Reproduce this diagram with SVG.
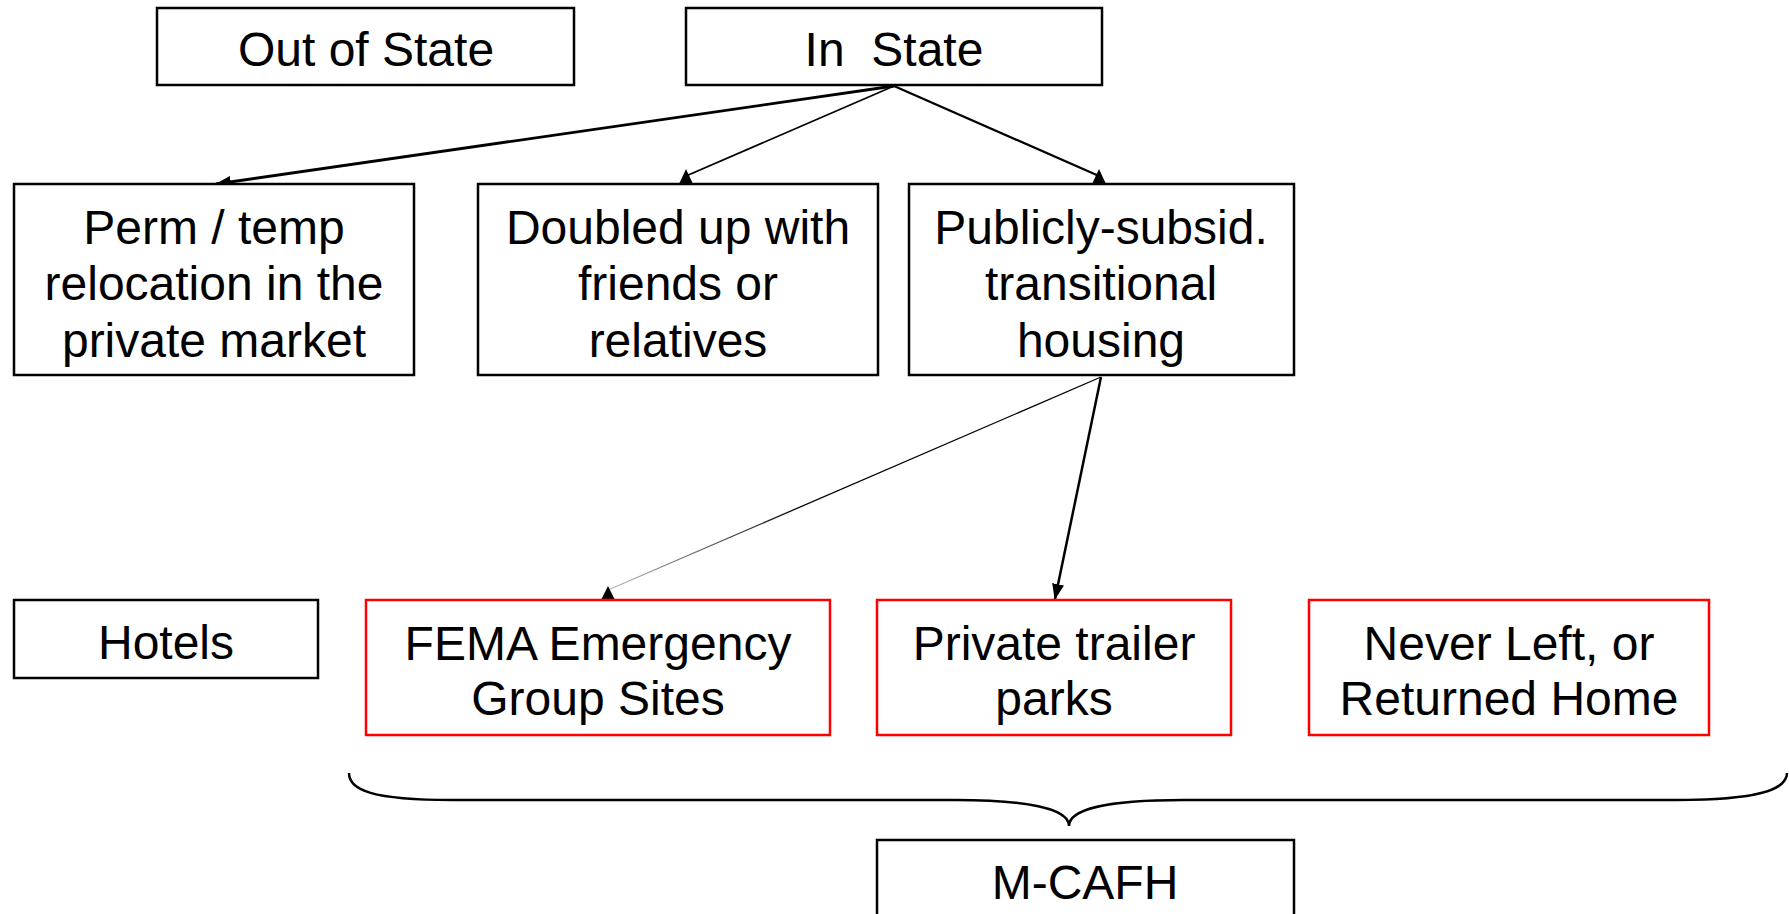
<svg xmlns="http://www.w3.org/2000/svg" width="1789" height="914" viewBox="0 0 1789 914">
<style>
.box{fill:#fff;stroke:#000;stroke-width:2.5}
.red{fill:#fff;stroke:#f00;stroke-width:2.5}
text{font-family:"Liberation Sans",Arial,sans-serif;font-size:48px;fill:#000;text-anchor:middle;white-space:pre}
.ln{fill:none;stroke:#000}
</style>
<defs>
<marker id="ah" viewBox="0 0 16 12" refX="15" refY="6" markerWidth="16" markerHeight="12" markerUnits="userSpaceOnUse" orient="auto">
<path d="M0,0 L16,6 L0,12 Z" fill="#000"/>
</marker>
<linearGradient id="fade" gradientUnits="userSpaceOnUse" x1="1101" y1="377" x2="608" y2="590">
<stop offset="0" stop-color="#000"/>
<stop offset="0.6" stop-color="#000"/>
<stop offset="1" stop-color="#bbb"/>
</linearGradient>
</defs>
<g id="connectors">
<line class="ln" x1="894" y1="86" x2="216" y2="184" stroke-width="2.8" marker-end="url(#ah)"/>
<line class="ln" x1="894" y1="86" x2="686" y2="176" stroke-width="1.8"/>
<polygon points="686,169 679,184 693,184" fill="#000"/>
<line class="ln" x1="894" y1="86" x2="1099" y2="176" stroke-width="2.2"/>
<polygon points="1099,169 1092,184 1106,184" fill="#000"/>
<line x1="1101" y1="377" x2="608" y2="590" stroke="url(#fade)" stroke-width="1.3"/>
<polygon points="608,586 601,600 615,600" fill="#000"/>
<line class="ln" x1="1101" y1="377" x2="1055" y2="599" stroke-width="2.5" marker-end="url(#ah)"/>
<path class="ln" stroke-width="2.5" d="M349,773 C349,790 372,800 452,800 L955,800 C1025,800 1069,808 1069,826 C1069,808 1113,800 1183,800 L1677,800 C1757,800 1787,790 1787,773"/>
</g>
<g id="out-of-state"><rect class="box" x="157" y="8" width="417" height="77"/><text x="366" y="66">Out of State</text></g>
<g id="in-state"><rect class="box" x="686" y="8" width="416" height="77"/><text x="894" y="66">In  State</text></g>
<g id="perm-temp"><rect class="box" x="14" y="184" width="400" height="191"/><text x="214" y="244">Perm / temp</text><text x="214" y="300">relocation in the</text><text x="214" y="357">private market</text></g>
<g id="doubled-up"><rect class="box" x="478" y="184" width="400" height="191"/><text x="678" y="244">Doubled up with</text><text x="678" y="300">friends or</text><text x="678" y="357">relatives</text></g>
<g id="publicly-subsid"><rect class="box" x="909" y="184" width="385" height="191"/><text x="1101" y="244">Publicly-subsid.</text><text x="1101" y="300">transitional</text><text x="1101" y="357">housing</text></g>
<g id="hotels"><rect class="box" x="14" y="600" width="304" height="78"/><text x="166" y="659">Hotels</text></g>
<g id="fema"><rect class="red" x="366" y="600" width="464" height="135"/><text x="598" y="660">FEMA Emergency</text><text x="598" y="715">Group Sites</text></g>
<g id="private-trailer"><rect class="red" x="877" y="600" width="354" height="135"/><text x="1054" y="660">Private trailer</text><text x="1054" y="715">parks</text></g>
<g id="never-left"><rect class="red" x="1309" y="600" width="400" height="135"/><text x="1509" y="660">Never Left, or</text><text x="1509" y="715">Returned Home</text></g>
<g id="m-cafh"><rect class="box" x="877" y="840" width="417" height="100"/><text x="1085" y="899">M-CAFH</text></g>
</svg>
